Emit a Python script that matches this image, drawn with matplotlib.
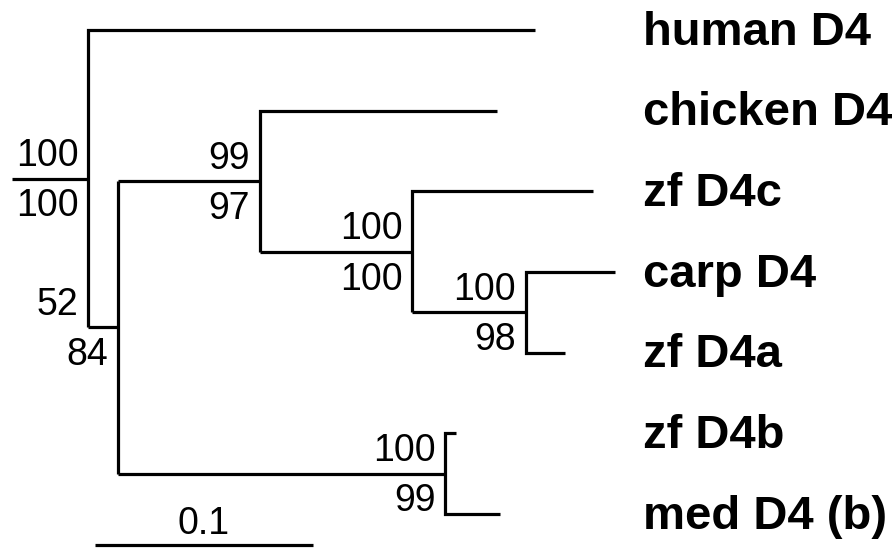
import matplotlib
matplotlib.use('Agg')
import matplotlib.pyplot as plt

# tree: (name, branch length, support top, support bottom, children)
leaf_names = ['human D4', 'chicken D4', 'zf D4c', 'carp D4', 'zf D4a', 'zf D4b', 'med D4 (b)']
leaf_lengths = [0.205, 0.109, 0.083, 0.041, 0.018, 0.005, 0.025]

node_D = ('D', 0.052, '100', '98', [3, 4])
node_C = ('C', 0.070, '100', '100', [2, node_D])
node_B = ('B', 0.065, '99', '97', [1, node_C])
node_E = ('E', 0.150, '100', '99', [5, 6])
node_A = ('A', 0.0138, '52', '84', [node_B, node_E])
root = ('root', 0.0, '100', '100', [0, node_A])
root_stub = 0.035
scale_len = 0.1

PX = 2180.0   # pixels per unit of branch length
STEP = 80.67  # pixels between tips

fig = plt.figure(figsize=(8.96, 5.5), dpi=100)
ax = fig.add_axes([0, 0, 1, 1])
ax.set_xlim(-88 / PX, (896 - 88) / PX)
ax.set_ylim((550 - 30) / STEP, -30 / STEP)
ax.axis('off')

LW = 2.3
num_font = dict(family='Liberation Sans', fontsize=27)
tips_x = []


def draw(node, x0, parent_x):
    # returns y of node
    name, blen, top, bottom, kids = node
    x = x0 + blen
    pts = []
    for k in kids:
        if isinstance(k, int):
            xe = x + leaf_lengths[k]
            ye = k
            tips_x.append((xe, ye, leaf_names[k]))
        else:
            ye = draw(k, x, x)
            xe = None
        pts.append((xe, ye))
    y = sum(p[1] for p in pts) / len(pts)
    (xa, ya), (xb, yb) = pts[0], pts[-1]
    xs = [x, x]
    ys = [ya, yb]
    if xa is not None:
        xs = [xa] + xs
        ys = [ya] + ys
    if xb is not None:
        xs = xs + [xb]
        ys = ys + [yb]
    ax.plot(xs, ys, color='black', lw=LW, solid_joinstyle='miter', solid_capstyle='butt')
    # horizontal to each internal child
    for k, (xe, ye) in zip(kids, pts):
        if xe is None:
            ax.plot([x, x + k[1]], [ye, ye], color='black', lw=LW, solid_capstyle='butt')
    # support values left of the node
    top_x = x if blen > 0.02 or name == 'root' else parent_x
    ax.annotate(top, (top_x, y), xytext=(-7, 9), textcoords='offset points',
                ha='right', va='baseline', **num_font)
    ax.annotate(bottom, (x, y), xytext=(-7, -7), textcoords='offset points',
                ha='right', va='top', **num_font)
    return y


ry = draw(root, 0.0, 0.0)
ax.plot([-root_stub, 0], [ry, ry], color='black', lw=LW, solid_capstyle='butt')

label_x = max(t[0] for t in tips_x)
for xe, ye, nm in tips_x:
    ax.annotate(nm, (label_x, ye), xytext=(20, -2), textcoords='offset points',
                ha='left', va='center', family='Liberation Sans',
                fontweight='bold', fontsize=34)

# scale bar
sb_y = (545 - 30) / STEP
sb_x = (95 - 88) / PX
ax.plot([sb_x, sb_x + scale_len], [sb_y, sb_y], color='black', lw=LW, solid_capstyle='butt')
ax.annotate(str(scale_len), (sb_x + scale_len / 2, sb_y), xytext=(0, 8),
            textcoords='offset points', ha='center', va='baseline', **num_font)

fig.savefig('out.png', dpi=100, facecolor='white')
